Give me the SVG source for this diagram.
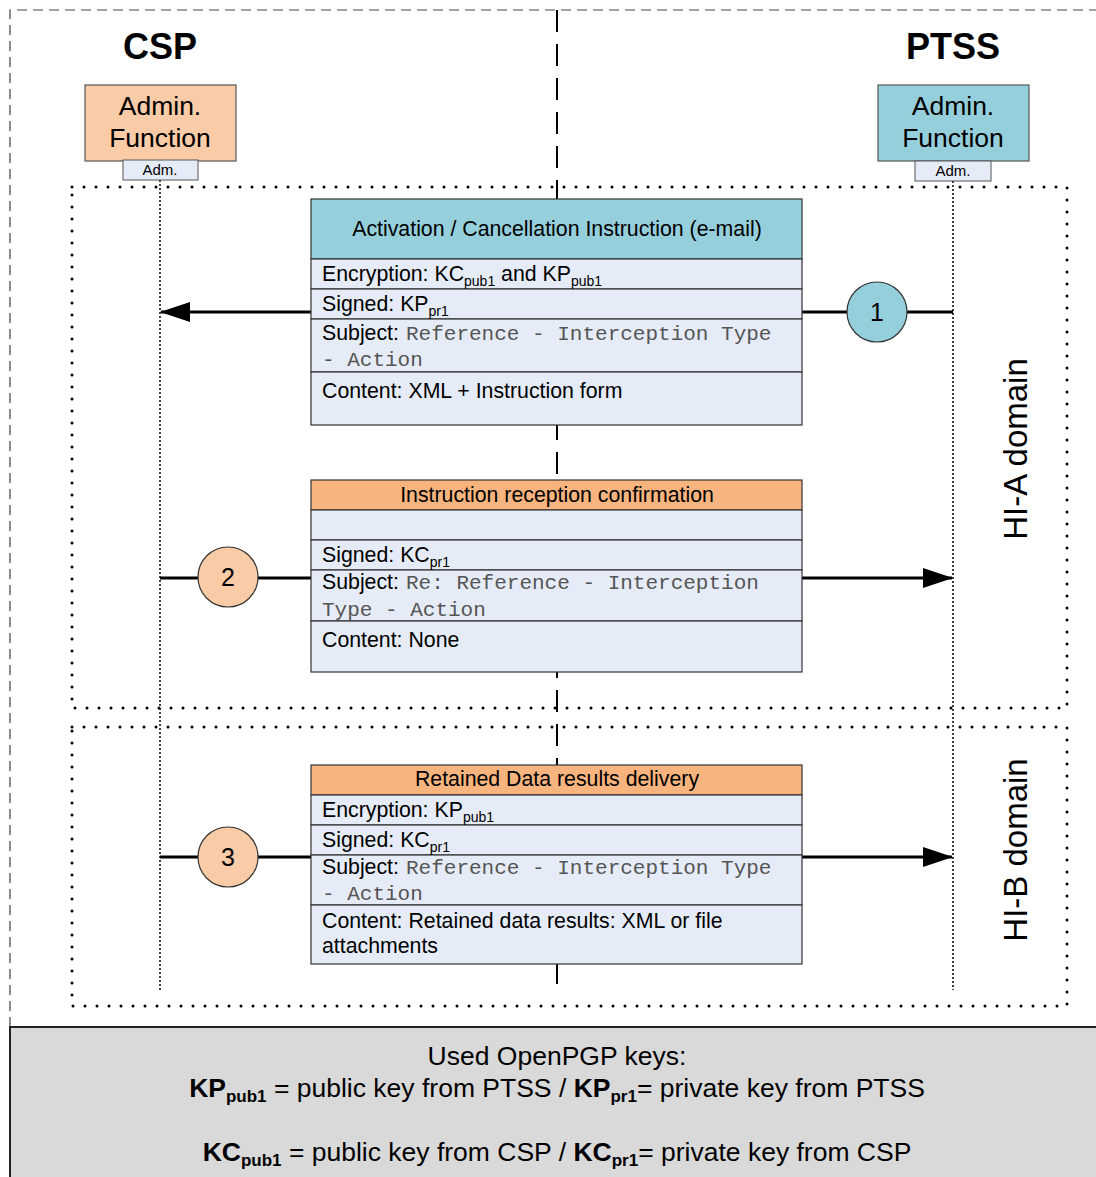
<svg xmlns="http://www.w3.org/2000/svg" width="1096" height="1177" viewBox="0 0 1096 1177">
<defs>
<style>
text{font-family:"Liberation Sans",Arial,sans-serif;fill:#000}
.big{font-size:36px;font-weight:bold;text-anchor:middle}
.adm{font-size:26.5px;text-anchor:middle}
.small{font-size:15px;text-anchor:middle}
.t{font-size:21.3px}
.h{font-size:21.3px;text-anchor:middle}
.sub{font-size:14px}
.mono{font-family:"Liberation Mono","Courier New",monospace;font-size:21px;fill:#555}
.num{font-size:25px;text-anchor:middle}
.dom{font-size:33px;text-anchor:middle}
.leg{font-size:26.5px;text-anchor:middle}
.row{fill:#E6ECF7;stroke:#333;stroke-width:1.2}
.dots{fill:none;stroke:#000;stroke-width:3;stroke-dasharray:0 12;stroke-linecap:round}
.life{stroke:#000;stroke-width:1.5;stroke-dasharray:2 2;fill:none}
.conn{stroke:#000;stroke-width:3;fill:none}
</style>
<marker id="ah" markerWidth="30" markerHeight="20" refX="29" refY="10" orient="auto" markerUnits="userSpaceOnUse">
<path d="M0,0 L30,10 L0,20 Z" fill="#000"/>
</marker>
</defs>
<rect width="1096" height="1177" fill="#fff"/>

<g id="frame">
<path d="M10,1027 V10 H1096" fill="none" stroke="#444" stroke-width="1.2" stroke-dasharray="10 6"/>
<line x1="557" y1="10" x2="557" y2="995" stroke="#000" stroke-width="2" stroke-dasharray="22 12"/>
</g>

<g id="domains">
<rect class="dots" x="72" y="187" width="995" height="521"/>
<rect class="dots" x="72" y="727" width="995" height="279"/>
<text class="dom" transform="translate(1027,449) rotate(-90)">HI-A domain</text>
<text class="dom" transform="translate(1027,850) rotate(-90)">HI-B domain</text>
</g>

<g id="lifelines">
<line class="life" x1="160" y1="180" x2="160" y2="990"/>
<line class="life" x1="953" y1="181" x2="953" y2="990"/>
</g>

<g id="csp">
<text class="big" x="160" y="59">CSP</text>
<rect x="85" y="85" width="151" height="76" fill="#F9CBA6" stroke="#555" stroke-width="1.2"/>
<text class="adm" x="160" y="115">Admin.</text>
<text class="adm" x="160" y="147">Function</text>
<rect x="123" y="160" width="75" height="20" fill="#E6ECF7" stroke="#555" stroke-width="1"/>
<text class="small" x="160" y="175">Adm.</text>
</g>

<g id="ptss">
<text class="big" x="953" y="59">PTSS</text>
<rect x="878" y="85" width="151" height="76" fill="#96CFDC" stroke="#555" stroke-width="1.2"/>
<text class="adm" x="953" y="115">Admin.</text>
<text class="adm" x="953" y="147">Function</text>
<rect x="915" y="161" width="76" height="20" fill="#E6ECF7" stroke="#555" stroke-width="1"/>
<text class="small" x="953" y="176">Adm.</text>
</g>

<g id="connectors">
<line class="conn" x1="953" y1="312" x2="161" y2="312" marker-end="url(#ah)"/>
<line class="conn" x1="160" y1="578" x2="952" y2="578" marker-end="url(#ah)"/>
<line class="conn" x1="160" y1="857" x2="952" y2="857" marker-end="url(#ah)"/>
</g>

<g id="msg1">
<rect x="311" y="199" width="491" height="60" fill="#96CFDC" stroke="#333" stroke-width="1.2"/>
<text class="h" x="557" y="236">Activation / Cancellation Instruction (e-mail)</text>
<rect class="row" x="311" y="259" width="491" height="30"/>
<rect class="row" x="311" y="289" width="491" height="30"/>
<rect class="row" x="311" y="319" width="491" height="53"/>
<rect class="row" x="311" y="372" width="491" height="53"/>
<text class="t" x="322" y="281">Encryption: KC<tspan class="sub" dy="5">pub1</tspan><tspan dy="-5"> and KP</tspan><tspan class="sub" dy="5">pub1</tspan></text>
<text class="t" x="322" y="311">Signed: KP<tspan class="sub" dy="5">pr1</tspan></text>
<text class="t" x="322" y="340">Subject:</text>
<text class="mono" x="406" y="340">Reference - Interception Type</text>
<text class="mono" x="322" y="366">- Action</text>
<text class="t" x="322" y="398">Content: XML + Instruction form</text>
</g>

<g id="step1">
<circle cx="877" cy="312" r="30" fill="#96CFDC" stroke="#333" stroke-width="1.2"/>
<text class="num" x="877" y="321">1</text>
</g>

<g id="msg2">
<rect x="311" y="480" width="491" height="30" fill="#F7B47E" stroke="#333" stroke-width="1.2"/>
<text class="h" x="557" y="502">Instruction reception confirmation</text>
<rect class="row" x="311" y="510" width="491" height="30"/>
<rect class="row" x="311" y="540" width="491" height="30"/>
<rect class="row" x="311" y="570" width="491" height="51"/>
<rect class="row" x="311" y="621" width="491" height="51"/>
<text class="t" x="322" y="562">Signed:  KC<tspan class="sub" dy="5">pr1</tspan></text>
<text class="t" x="322" y="589">Subject:</text>
<text class="mono" x="406" y="589">Re: Reference - Interception</text>
<text class="mono" x="322" y="616">Type - Action</text>
<text class="t" x="322" y="647">Content: None</text>
</g>

<g id="step2">
<circle cx="228" cy="577" r="30" fill="#F9CBA6" stroke="#333" stroke-width="1.2"/>
<text class="num" x="228" y="586">2</text>
</g>

<g id="msg3">
<rect x="311" y="765" width="491" height="30" fill="#F7B47E" stroke="#333" stroke-width="1.2"/>
<text class="h" x="557" y="786">Retained Data results delivery</text>
<rect class="row" x="311" y="795" width="491" height="30"/>
<rect class="row" x="311" y="825" width="491" height="30"/>
<rect class="row" x="311" y="855" width="491" height="50"/>
<rect class="row" x="311" y="905" width="491" height="59"/>
<text class="t" x="322" y="817">Encryption: KP<tspan class="sub" dy="5">pub1</tspan></text>
<text class="t" x="322" y="847">Signed: KC<tspan class="sub" dy="5">pr1</tspan></text>
<text class="t" x="322" y="874">Subject:</text>
<text class="mono" x="406" y="874">Reference - Interception Type</text>
<text class="mono" x="322" y="900">- Action</text>
<text class="t" x="322" y="928">Content: Retained data results: XML or file</text>
<text class="t" x="322" y="953">attachments</text>
</g>

<g id="step3">
<circle cx="228" cy="857" r="30" fill="#F9CBA6" stroke="#333" stroke-width="1.2"/>
<text class="num" x="228" y="866">3</text>
</g>

<g id="legend">
<rect x="10" y="1027" width="1096" height="160" fill="#D9D9D9" stroke="#222" stroke-width="2"/>
<text class="leg" x="557" y="1065">Used OpenPGP keys:</text>
<text class="leg" x="557" y="1097"><tspan font-weight="bold">KP</tspan><tspan font-weight="bold" font-size="17" dy="5">pub1</tspan><tspan dy="-5"> = public key from PTSS / </tspan><tspan font-weight="bold">KP</tspan><tspan font-weight="bold" font-size="17" dy="5">pr1</tspan><tspan dy="-5">= private key from PTSS</tspan></text>
<text class="leg" x="557" y="1161"><tspan font-weight="bold">KC</tspan><tspan font-weight="bold" font-size="17" dy="5">pub1</tspan><tspan dy="-5"> = public key from CSP / </tspan><tspan font-weight="bold">KC</tspan><tspan font-weight="bold" font-size="17" dy="5">pr1</tspan><tspan dy="-5">= private key from CSP</tspan></text>
</g>
</svg>
